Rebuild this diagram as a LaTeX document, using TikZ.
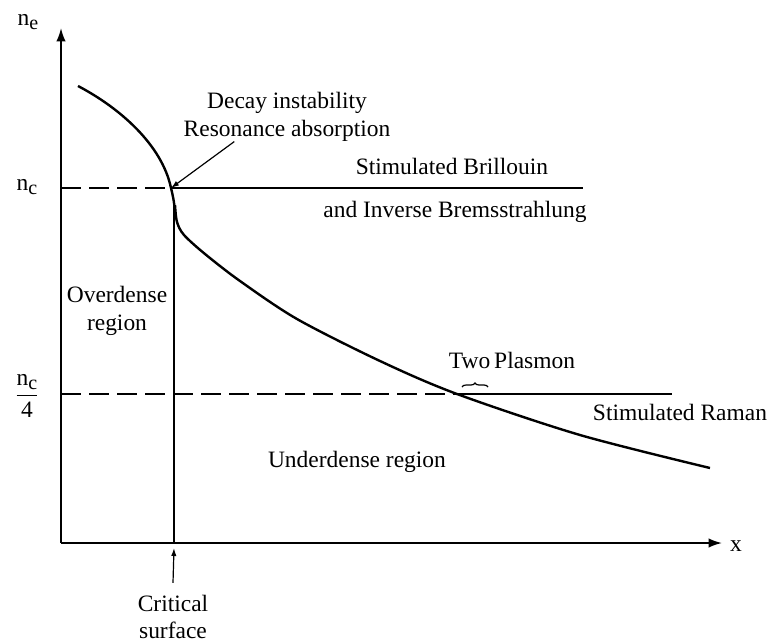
\documentclass[tikz,border=0pt]{standalone}
\usepackage{fontspec}
\setmainfont{Liberation Serif}
\usetikzlibrary{arrows.meta,decorations.pathreplacing}

\newcommand{\dens}[1]{n\raisebox{-0.35ex}{\fontsize{15}{15}\selectfont #1}}

\begin{document}
\begin{tikzpicture}[x=0.75pt, y=-0.75pt,
    lbl/.style = {font=\fontsize{17.6}{20.5}\selectfont, align=center, inner sep=0pt},
    axis/.style = {line width=1.3pt, -{Latex[length=10pt,width=7pt]}},
    level/.style = {line width=1.3pt},
    lowpart/.style = {line width=1.3pt, dash pattern=on 15pt off 6pt},
    curve/.style = {line width=1.8pt},
    pointer/.style = {line width=0.9pt, -{Latex[length=6pt,width=4pt]}}]
    \useasboundingbox (0,0) rectangle (772,643);

    % axes
    \coordinate (O) at (61,543);
    \coordinate (ytop) at (61,28);
    \coordinate (xend) at (722,543);
    \draw[axis] (O) -- (ytop);
    \draw[axis] (O) -- (xend);
    \node[lbl] (ne) at (28,22) {\dens{e}};
    \node[lbl] (xlbl) at (736,546) {x};

    % density levels
    \node[lbl] (nc) at (27,187) {\dens{c}};
    \node[lbl] (nq) at (27,396) {$\displaystyle\frac{\mbox{\dens{c}}}{\mbox{4}}$};
    \coordinate (c1) at (61,188);
    \coordinate (c2) at (171,188);
    \coordinate (c3) at (583,188);
    \coordinate (q1) at (61,394);
    \coordinate (q2) at (457,394);
    \coordinate (q3) at (672,394);
    \draw[lowpart] (c1) -- (c2);
    \draw[level] (c2) -- (c3);
    \draw[lowpart] (q1) -- (q2);
    \draw[level] (q2) -- (q3);

    % critical surface
    \coordinate (s1) at (174,205);
    \coordinate (s2) at (174,543);
    \draw[level] (s1) -- (s2);
    \node[lbl] (crit) at (173,617) {Critical\\surface};
    \draw[pointer] (crit.north) ++(0,-12) coordinate (cs) -- (174,548);

    % density profile
    \draw[curve] (78,86) .. controls (120,108) and (162,145) .. (c2) .. controls (174,200) and (175,208) .. (175,217);
    \draw[curve] plot[smooth, tension=0.5] coordinates {(175,205) (177,222) (184,235) (205,254) (240,281) (297,319) (380,361) (457,394) (580,435) (710,468)};

    % labels
    \node[lbl] (decay) at (287,117) {Decay instability\\Resonance absorption};
    \draw[pointer] (decay.205) -- (c2);
    \node[lbl] (sbs) at (452,166) {Stimulated Brillouin};
    \node[lbl] (ib) at (455,212) {and Inverse Bremsstrahlung};
    \node[lbl] (over) at (117,311) {Overdense\\region};
    \node[lbl] (under) at (357,462) {Underdense region};
    \node[lbl] (tpd) at (512,360) {Two\,Plasmon};
    \draw[line width=0.9pt, decorate, decoration={brace, amplitude=3pt}] (462,387) -- (488,387);
    \node[lbl] (srs) at (680,412) {Stimulated Raman};
\end{tikzpicture}
\end{document}
